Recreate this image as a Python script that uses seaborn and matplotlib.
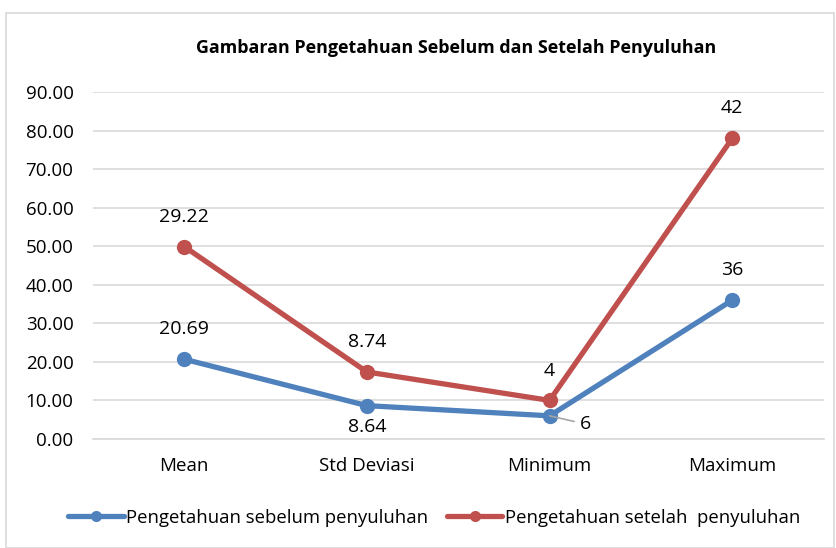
import numpy as np
import pandas as pd
import matplotlib
matplotlib.use("Agg")
import matplotlib.pyplot as plt
import seaborn as sns
from matplotlib.patches import Rectangle
from matplotlib.lines import Line2D

categories = ["Mean", "Std Deviasi", "Minimum", "Maximum"]
sebelum = [20.69, 8.64, 6, 36]
setelah = [29.22, 8.74, 4, 42]
series_names = ["Pengetahuan sebelum penyuluhan", "Pengetahuan setelah  penyuluhan"]
title = "Gambaran Pengetahuan Sebelum dan Setelah Penyuluhan"
yticks = [0, 10, 20, 30, 40, 50, 60, 70, 80, 90]

sns.set_theme(style="white")
plt.rcParams["font.family"] = ["Open Sans", "DejaVu Sans"]

blue = "#4F81BD"
red = "#C0504D"

# stacked line chart (as in Excel): second series sits on top of first
stack_top = np.array(sebelum) + np.array(setelah)
df = pd.DataFrame({
    "cat": list(range(len(categories))) * 2,
    "val": list(sebelum) + list(stack_top),
    "series": [series_names[0]] * 4 + [series_names[1]] * 4,
})

fig = plt.figure(figsize=(8.37, 5.48), dpi=100)
ax = fig.add_axes([0.111, 0.199, 0.873, 0.633])

fig.patches.append(Rectangle((0.007, 0.0), 0.99, 0.977, transform=fig.transFigure,
                             fill=False, edgecolor="#d9d9d9", linewidth=1.2))

sns.lineplot(data=df, x="cat", y="val", hue="series", palette=[blue, red],
             marker="o", markersize=11, linewidth=3.8, markeredgewidth=0,
             ax=ax, legend=False, zorder=3)

tfs = 13.5
ax.set_xlim(-0.5, 3.5)
ax.set_ylim(0, 90)
ax.set_yticks(yticks)
ax.set_yticklabels([f"{v:.2f}" for v in yticks], fontsize=tfs, color="#000000")
ax.set_xticks(range(len(categories)))
ax.set_xticklabels(categories, fontsize=tfs, color="#000000")
ax.tick_params(axis="x", length=0, pad=13)
ax.tick_params(axis="y", length=0, pad=14)
ax.grid(axis="y", color="#d9d9d9", linewidth=1.2)
ax.set_axisbelow(True)
for s in ["top", "right", "left"]:
    ax.spines[s].set_visible(False)
ax.spines["bottom"].set_color("#d9d9d9")
ax.spines["bottom"].set_linewidth(1.2)
ax.set_xlabel("")
ax.set_ylabel("")

fs = 14
# labels for top series
for i, (v, t) in enumerate(zip(setelah, stack_top)):
    ax.annotate(f"{v:g}", (i, t), xytext=(0, 15), textcoords="offset points",
                ha="center", va="bottom", fontsize=fs, color="#000000")
# labels for bottom series
offsets = [(0, 15, "center", "bottom"), (0, -9, "center", "top"), None, (0, 15, "center", "bottom")]
for i, v in enumerate(sebelum):
    if offsets[i] is None:
        ax.annotate(f"{v:g}", (i, v), xytext=(22, -6), textcoords="offset points",
                    ha="left", va="center", fontsize=fs, color="#000000",
                    arrowprops=dict(arrowstyle="-", color="#a6a6a6", lw=1.2,
                                    shrinkA=2, shrinkB=0))
    else:
        dx, dy, ha, va = offsets[i]
        ax.annotate(f"{v:g}", (i, v), xytext=(dx, dy), textcoords="offset points",
                    ha=ha, va=va, fontsize=fs, color="#000000")

fig.text(0.545, 0.913, title, ha="center", va="center", fontsize=12.9,
         fontweight="bold", color="#000000")

handles = [Line2D([], [], color=c, linewidth=3.8, marker="o", markersize=8, markeredgewidth=0)
           for c in [blue, red]]
fig.legend(handles, series_names, loc="center", bbox_to_anchor=(0.519, 0.055), ncol=2,
           frameon=False, fontsize=13.3, handlelength=3.0, handletextpad=0.15,
           columnspacing=1.0, labelcolor="#000000")

fig.savefig("out.png", dpi=100)
